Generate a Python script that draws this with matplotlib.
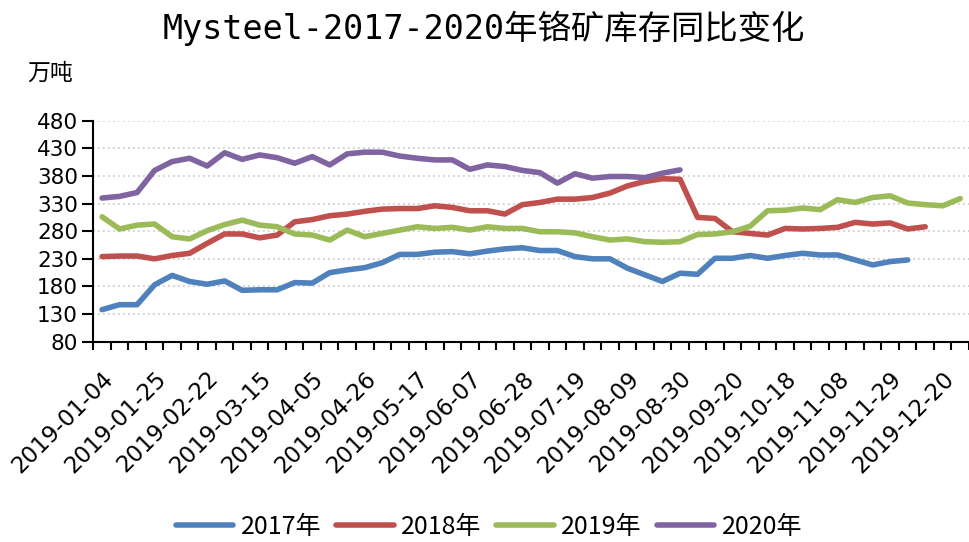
import matplotlib
matplotlib.use("Agg")
import matplotlib.pyplot as plt
from matplotlib.transforms import ScaledTranslation

# weekly categories (Fridays of 2019, holiday weeks skipped)
dates = [
    "2019-01-04", "2019-01-11", "2019-01-18", "2019-01-25", "2019-02-01",
    "2019-02-15", "2019-02-22", "2019-03-01", "2019-03-08", "2019-03-15",
    "2019-03-22", "2019-03-29", "2019-04-05", "2019-04-12", "2019-04-19",
    "2019-04-26", "2019-05-03", "2019-05-10", "2019-05-17", "2019-05-24",
    "2019-05-31", "2019-06-07", "2019-06-14", "2019-06-21", "2019-06-28",
    "2019-07-05", "2019-07-12", "2019-07-19", "2019-07-26", "2019-08-02",
    "2019-08-09", "2019-08-16", "2019-08-23", "2019-08-30", "2019-09-06",
    "2019-09-13", "2019-09-20", "2019-09-27", "2019-10-11", "2019-10-18",
    "2019-10-25", "2019-11-01", "2019-11-08", "2019-11-15", "2019-11-22",
    "2019-11-29", "2019-12-06", "2019-12-13", "2019-12-20", "2019-12-27",
]

# 万吨
inv_2017 = [138, 147, 147, 183, 200, 189, 184, 190, 173, 174,
            174, 187, 186, 205, 210, 214, 223, 238, 238, 242,
            243, 239, 244, 248, 250, 245, 245, 234, 230, 230,
            213, 201, 189, 204, 202, 231, 231, 236, 231, 236,
            240, 237, 237, 228, 219, 225, 228]
inv_2018 = [234, 235, 235, 230, 236, 240, 258, 275, 275, 268,
            273, 297, 301, 308, 311, 316, 320, 321, 321, 326,
            323, 317, 317, 311, 328, 332, 338, 338, 341, 349,
            362, 370, 375, 374, 305, 303, 279, 276, 273, 285,
            284, 285, 287, 296, 293, 295, 284, 288]
inv_2019 = [306, 284, 291, 293, 270, 266, 281, 292, 300, 291,
            288, 275, 273, 264, 282, 270, 276, 282, 288, 285,
            287, 282, 288, 285, 285, 279, 279, 277, 270, 264,
            266, 261, 260, 261, 274, 275, 279, 289, 317, 318,
            322, 319, 337, 332, 341, 344, 331, 328, 326, 339]
inv_2020 = [340, 343, 350, 390, 406, 412, 398, 422, 410, 418,
            413, 403, 415, 400, 420, 423, 423, 416, 412, 409,
            409, 392, 400, 397, 390, 386, 367, 384, 376, 379,
            379, 377, 385, 391]

names = ["2017年", "2018年", "2019年", "2020年"]
colors = ["#4F81BD", "#C0504D", "#9BBB59", "#8064A2"]
yticks = [80, 130, 180, 230, 280, 330, 380, 430, 480]

W, H = 969, 542
fig = plt.figure(figsize=(W / 100, H / 100), dpi=100)
ax = fig.add_axes([93.3 / W, 1 - 341.7 / H, (W - 93.3) / W, (341.7 - 120.7) / H])

for name, vals, c in zip(names, [inv_2017, inv_2018, inv_2019, inv_2020], colors):
    ax.plot(range(len(vals)), vals, color=c, lw=4.0, label=name,
            solid_capstyle="round", solid_joinstyle="round")

ax.set_xlim(-0.5, 49.45)
ax.set_ylim(80, 480)
ax.set_yticks(yticks)
ax.set_yticklabels([str(v) for v in yticks], family="DejaVu Sans", fontsize=15.5)
ax.yaxis.grid(True, linestyle=(0, (1, 2)), color="#c8c8c8", lw=1.2)
ax.set_axisbelow(True)

ax.set_xticks(range(0, len(dates), 3))
ax.set_xticklabels(dates[::3], rotation=45, ha="right", va="center",
                   rotation_mode="anchor", family="DejaVu Sans", fontsize=16.5)
ax.set_xticks([i - 0.5 for i in range(len(dates) + 1)], minor=True)
ax.tick_params(axis="x", which="major", length=0, pad=24)
ax.tick_params(axis="x", which="minor", length=6, width=1.5, direction="out")
ax.tick_params(axis="y", length=8, width=1.5, pad=3)
for lab in ax.get_xticklabels():
    lab.set_transform(lab.get_transform() + ScaledTranslation(8 / 100, 0, fig.dpi_scale_trans))

for s in ["top", "right"]:
    ax.spines[s].set_visible(False)
for s in ["left", "bottom"]:
    ax.spines[s].set_linewidth(1.5)

fig.text(484 / W, 1 - 28 / H, "Mysteel-2017-2020年铬矿库存同比变化", ha="center", va="center",
         fontsize=24, family=["DejaVu Sans Mono", "Noto Sans CJK SC"])
fig.text(27 / W, 1 - 73 / H, "万吨", ha="left", va="center", fontsize=16.5,
         family=["Noto Sans CJK SC"])

fig.legend(loc="center", bbox_to_anchor=(489 / W, 1 - 527 / H), ncol=4, frameon=False,
           prop={"family": ["Noto Sans CJK SC"], "size": 18}, handlelength=2.3,
           handletextpad=0.3, columnspacing=0.6)

fig.savefig("out.png", dpi=100)
